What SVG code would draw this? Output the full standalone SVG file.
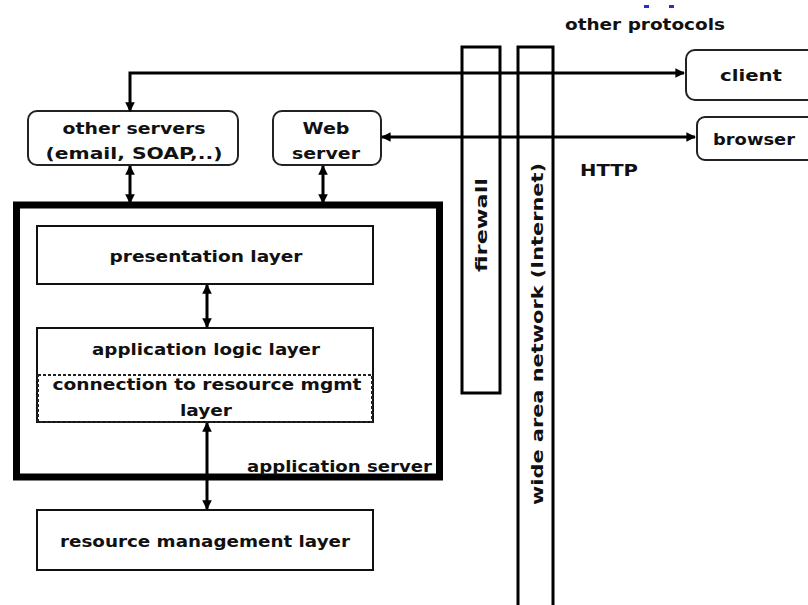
<svg xmlns="http://www.w3.org/2000/svg" width="808" height="605" viewBox="0 0 808 605">
  <style>
    .t { font-family: "DejaVu Sans", "Liberation Sans", sans-serif; font-weight: bold; font-size: 16px; fill: #111; }
    .c { text-anchor: middle; }
    .box { fill: #fff; stroke: #111; stroke-width: 2; }
    .rbox { fill: #fff; stroke: #222; stroke-width: 2; }
    .bar { fill: #fff; stroke: #000; stroke-width: 3; }
    .link { fill: none; stroke: #000; stroke-width: 3; }
  </style>
  <defs>
    <marker id="ah" viewBox="0 0 10 10" refX="9" refY="5" markerWidth="3.2" markerHeight="3.2" orient="auto-start-reverse" markerUnits="strokeWidth">
      <path d="M0,0 L10,5 L0,10 z" fill="#000"/>
    </marker>
  </defs>
  <rect width="808" height="605" fill="#fff"/>

  <!-- stray blue marks above the protocol label -->
  <rect x="644" y="5" width="5" height="3" fill="#2b2bd8"/>
  <rect x="669" y="5" width="5" height="3" fill="#2b2bd8"/>

  <!-- firewall and WAN columns -->
  <g id="firewall">
    <rect class="bar" x="462" y="47" width="38" height="346"/>
    <text class="t c" transform="translate(487,225) rotate(-90)" textLength="94" lengthAdjust="spacingAndGlyphs">firewall</text>
  </g>
  <g id="wan">
    <rect class="bar" x="518" y="47" width="35" height="570"/>
    <text class="t c" transform="translate(543,334) rotate(-90)" textLength="342" lengthAdjust="spacingAndGlyphs">wide area network (Internet)</text>
  </g>

  <!-- application server container -->
  <g id="app-server">
    <rect x="16.5" y="205" width="423" height="272" fill="none" stroke="#000" stroke-width="7"/>
    <text class="t" x="247" y="472" textLength="185" lengthAdjust="spacingAndGlyphs">application server</text>
  </g>

  <g id="other-servers">
    <rect class="rbox" x="28" y="111" width="210" height="54" rx="9"/>
    <text class="t c" x="134" y="134" textLength="143" lengthAdjust="spacingAndGlyphs">other servers</text>
    <text class="t c" x="134" y="159" textLength="177" lengthAdjust="spacingAndGlyphs">(email, SOAP,..)</text>
  </g>
  <g id="web-server">
    <rect class="rbox" x="273" y="111" width="108" height="54" rx="9"/>
    <text class="t c" x="326" y="134" textLength="47" lengthAdjust="spacingAndGlyphs">Web</text>
    <text class="t c" x="326" y="159" textLength="68" lengthAdjust="spacingAndGlyphs">server</text>
  </g>
  <g id="client">
    <rect class="rbox" x="686" y="50" width="135" height="50" rx="9"/>
    <text class="t c" x="751" y="81" textLength="62" lengthAdjust="spacingAndGlyphs">client</text>
  </g>
  <g id="browser">
    <rect class="rbox" x="697" y="117" width="125" height="43" rx="8"/>
    <text class="t c" x="754" y="145" textLength="82" lengthAdjust="spacingAndGlyphs">browser</text>
  </g>
  <g id="presentation">
    <rect class="box" x="37" y="226" width="336" height="58"/>
    <text class="t c" x="206" y="262" textLength="193" lengthAdjust="spacingAndGlyphs">presentation layer</text>
  </g>
  <g id="app-logic">
    <rect class="box" x="37" y="328" width="336" height="94"/>
    <rect x="38" y="375" width="334" height="47" fill="none" stroke="#222" stroke-width="2" stroke-dasharray="3,2"/>
    <text class="t c" x="206" y="355" textLength="228" lengthAdjust="spacingAndGlyphs">application logic layer</text>
    <text class="t c" x="207" y="390" textLength="309" lengthAdjust="spacingAndGlyphs">connection to resource mgmt</text>
    <text class="t c" x="206" y="416" textLength="52" lengthAdjust="spacingAndGlyphs">layer</text>
  </g>
  <g id="resource-mgmt">
    <rect class="box" x="37" y="510" width="336" height="60"/>
    <text class="t c" x="205" y="547" textLength="290" lengthAdjust="spacingAndGlyphs">resource management layer</text>
  </g>

  <!-- labels -->
  <text class="t" x="565" y="30" textLength="160" lengthAdjust="spacingAndGlyphs">other protocols</text>
  <text class="t" x="580" y="176" textLength="58" lengthAdjust="spacingAndGlyphs">HTTP</text>

  <!-- connectors -->
  <g id="connectors">
    <path class="link" d="M130,111 L130,73 L684,73" marker-start="url(#ah)" marker-end="url(#ah)"/>
    <path class="link" d="M382,137 L695,137" marker-start="url(#ah)" marker-end="url(#ah)"/>
    <path class="link" d="M130,166 L130,203" marker-start="url(#ah)" marker-end="url(#ah)"/>
    <path class="link" d="M323,166 L323,203" marker-start="url(#ah)" marker-end="url(#ah)"/>
    <path class="link" d="M207,285 L207,327" marker-start="url(#ah)" marker-end="url(#ah)"/>
    <path class="link" d="M207,423 L207,509" marker-start="url(#ah)" marker-end="url(#ah)"/>
  </g>
</svg>
